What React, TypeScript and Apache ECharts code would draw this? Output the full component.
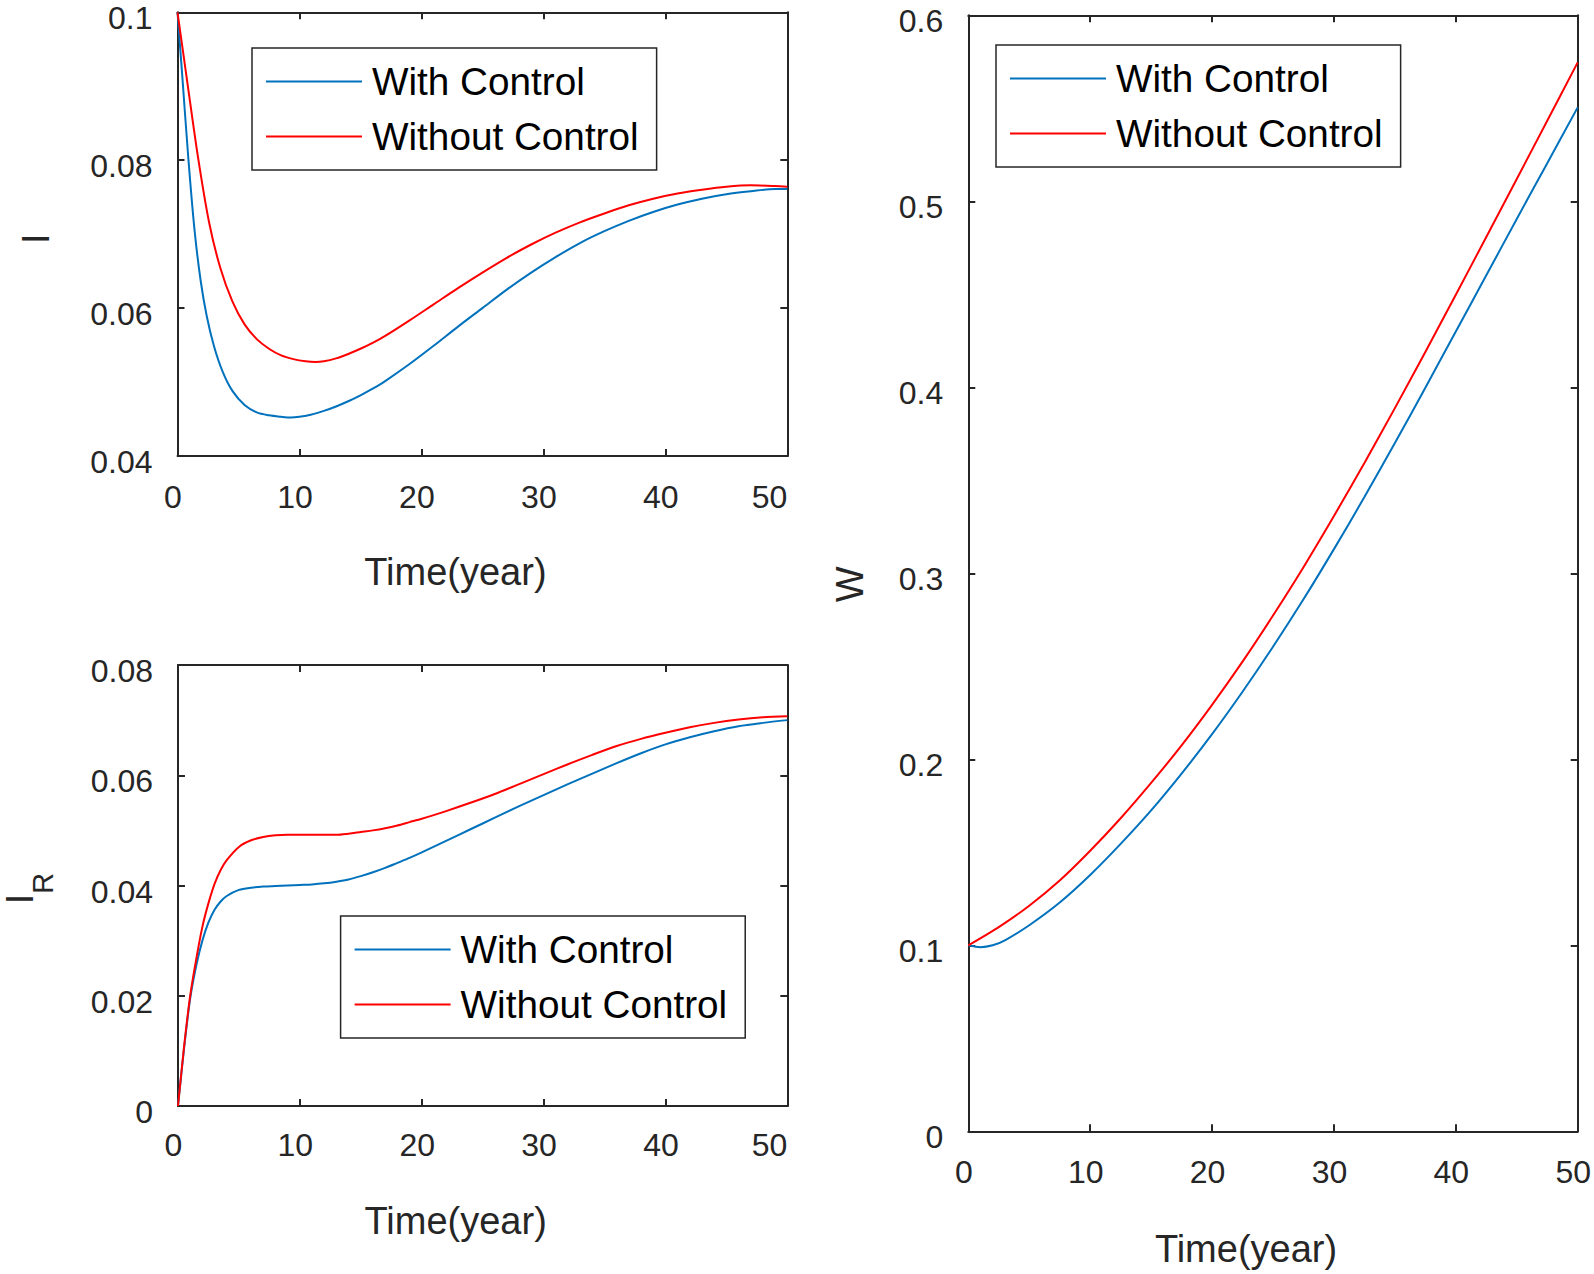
import React, { useEffect, useRef } from 'react';
import * as echarts from 'echarts';

// ---------- data ----------
const SERIES_NAMES = ['With Control', 'Without Control'];
const X_TICK_MIN = 0;
const X_TICK_MAX = 50;
const X_TICK_STEP = 10;

// Panel I (top-left)
const I_T_WITH = [0, 0.4, 0.9, 1.4, 1.9, 2.4, 3, 3.7, 4.5, 5.5, 6.5, 7.5, 8.5, 9.3, 10, 11, 12, 13, 14, 15, 16, 17, 19, 21, 23, 25, 27, 29, 31, 33, 35, 37, 39, 41, 43, 45, 47, 49, 50];
const I_WITH = [0.1, 0.0912, 0.08, 0.0705, 0.0637, 0.0589, 0.0548, 0.0514, 0.0488, 0.0469, 0.0459, 0.0455, 0.0453, 0.0452, 0.0453, 0.0456, 0.0461, 0.0467, 0.0474, 0.0482, 0.0491, 0.0501, 0.0524, 0.0549, 0.0575, 0.06, 0.0625, 0.0648, 0.0669, 0.0688, 0.0704, 0.0718, 0.073, 0.074, 0.0748, 0.0754, 0.0758, 0.0761, 0.0761];
const I_T_WITHOUT = [0, 0.8, 1.7, 2.6, 3.5, 4.5, 5.5, 6.5, 7.5, 8.5, 9.5, 10.5, 11.3, 12, 13, 14, 15, 16, 17, 19, 21, 23, 25, 27, 29, 31, 33, 35, 37, 39, 41, 43, 45, 47, 49, 50];
const I_WITHOUT = [0.1, 0.0906, 0.0802, 0.0715, 0.0655, 0.0609, 0.0578, 0.0558, 0.0545, 0.0536, 0.0531, 0.0528, 0.0527, 0.0528, 0.0532, 0.0538, 0.0545, 0.0553, 0.0562, 0.0583, 0.0605, 0.0627, 0.0648, 0.0668, 0.0686, 0.0702, 0.0716, 0.0728, 0.0739, 0.0748, 0.0755, 0.076, 0.0764, 0.0766, 0.0765, 0.0764];
const I_Y_MIN = 0.04;
const I_Y_MAX = 0.1;
const I_Y_STEP = 0.02;

// Panel I_R (bottom-left)
const IR_T = [0, 0.5, 1, 1.5, 2, 2.5, 3, 3.5, 4, 5, 6, 7, 8, 9, 10, 11, 12, 13, 14, 15, 16, 17, 18, 19, 20, 22, 24, 26, 28, 30, 32, 34, 36, 38, 40, 42, 44, 46, 48, 50];
const IR_WITH = [0, 0.0105, 0.0195, 0.0255, 0.03, 0.0333, 0.0356, 0.0371, 0.0381, 0.0392, 0.0396, 0.0398, 0.0399, 0.04, 0.0401, 0.0402, 0.0404, 0.0407, 0.0411, 0.0417, 0.0424, 0.0432, 0.0441, 0.045, 0.046, 0.0481, 0.0502, 0.0523, 0.0544, 0.0564, 0.0584, 0.0603, 0.0622, 0.064, 0.0656, 0.0669, 0.068, 0.0689, 0.0695, 0.07];
const IR_WITHOUT = [0, 0.0108, 0.02, 0.0267, 0.0325, 0.0368, 0.0403, 0.0428, 0.0446, 0.047, 0.0482, 0.0488, 0.0491, 0.0492, 0.0492, 0.0492, 0.0492, 0.0492, 0.0494, 0.0497, 0.05, 0.0504, 0.0509, 0.0515, 0.0521, 0.0535, 0.055, 0.0566, 0.0584, 0.0602, 0.062, 0.0637, 0.0653, 0.0666, 0.0677, 0.0687, 0.0695, 0.0701, 0.0705, 0.0707];
const IR_Y_MIN = 0;
const IR_Y_MAX = 0.08;
const IR_Y_STEP = 0.02;

// Panel W (right)
const W_T_WITH = [0, 1, 2, 3, 5, 7.5, 10, 12.5, 15, 17.5, 20, 22.5, 25, 27.5, 30, 32.5, 35, 37.5, 40, 42.5, 45, 47.5, 50];
const W_WITH = [0.1, 0.099, 0.1, 0.1027, 0.1108, 0.123, 0.1378, 0.1545, 0.1725, 0.1923, 0.2135, 0.2363, 0.2605, 0.286, 0.313, 0.341, 0.37, 0.3998, 0.43, 0.4602, 0.4905, 0.5205, 0.5505];
const W_T_WITHOUT = [0, 2.5, 5, 7.5, 10, 12.5, 15, 17.5, 20, 22.5, 25, 27.5, 30, 32.5, 35, 37.5, 40, 42.5, 45, 47.5, 50];
const W_WITHOUT = [0.1, 0.1098, 0.1213, 0.1348, 0.1508, 0.1683, 0.1873, 0.2075, 0.2293, 0.2525, 0.2773, 0.3033, 0.3308, 0.3593, 0.3888, 0.419, 0.4498, 0.4808, 0.512, 0.5433, 0.5747];
const W_Y_MIN = 0;
const W_Y_MAX = 0.6;
const W_Y_STEP = 0.1;

// ---------- style ----------
const BLUE = '#0072BD';
const RED = '#FF0000';
const AX = '#262626';
const FONT = "'Liberation Sans', Arial, Helvetica, sans-serif";

const zip = (xs: number[], ys: number[]) => xs.map((x, i) => [x, ys[i]]);
const fmtY = (v: number) => String(parseFloat(v.toFixed(3)));

const axisLine = { show: true, onZero: false, lineStyle: { color: AX, width: 2 } };
const axisTick = { show: true, inside: true, length: 7, lineStyle: { color: AX, width: 2 } };

function bottomX(gridIndex: number, alignRight: boolean, margin: number, nameGap: number) {
  return {
    type: 'value',
    gridIndex,
    position: 'bottom',
    min: X_TICK_MIN,
    max: X_TICK_MAX,
    interval: X_TICK_STEP,
    axisLine,
    axisTick,
    splitLine: { show: false },
    axisLabel: {
      margin,
      fontSize: 32,
      fontFamily: FONT,
      color: AX,
      alignMaxLabel: alignRight ? 'right' : undefined,
      formatter: (v: number) => (alignRight && v === X_TICK_MAX ? `{e|${v}}` : `{n|${v}}`),
      rich: {
        n: { fontSize: 32, fontFamily: FONT, color: AX, padding: [0, 9, 0, 0] },
        e: { fontSize: 32, fontFamily: FONT, color: AX },
      },
    },
    name: 'Time(year)',
    nameLocation: 'middle',
    nameGap,
    nameTextStyle: { fontSize: 38, fontFamily: FONT, color: AX, padding: [0, 54, 0, 0] },
  };
}

function topX(gridIndex: number) {
  return {
    type: 'value',
    gridIndex,
    position: 'top',
    min: X_TICK_MIN,
    max: X_TICK_MAX,
    interval: X_TICK_STEP,
    axisLine,
    axisTick,
    axisLabel: { show: false },
    splitLine: { show: false },
  };
}

function leftY(gridIndex: number, min: number, max: number, interval: number, name: string, nameGap: number, shift: number, rich?: any) {
  return {
    type: 'value',
    gridIndex,
    position: 'left',
    min,
    max,
    interval,
    axisLine,
    axisTick,
    splitLine: { show: false },
    axisLabel: {
      margin: 25,
      fontSize: 32,
      fontFamily: FONT,
      color: AX,
      verticalAlign: 'top',
      lineHeight: 12,
      formatter: fmtY,
    },
    name,
    nameLocation: 'middle',
    nameRotate: 90,
    nameGap,
    nameTextStyle: { fontSize: 38, fontFamily: FONT, color: AX, padding: [0, shift * 2, 0, 0], rich },
  };
}

function rightY(gridIndex: number, min: number, max: number, interval: number) {
  return {
    type: 'value',
    gridIndex,
    position: 'right',
    min,
    max,
    interval,
    axisLine,
    axisTick,
    axisLabel: { show: false },
    splitLine: { show: false },
  };
}

function legend(left: number, top: number) {
  return {
    left,
    top,
    orient: 'vertical',
    data: SERIES_NAMES,
    icon: 'rect',
    itemWidth: 96,
    itemHeight: 2,
    itemGap: 16,
    padding: [14, 18, 14, 14],
    borderColor: AX,
    borderWidth: 1.5,
    backgroundColor: '#ffffff',
    selectedMode: false,
    textStyle: { fontSize: 38.7, fontFamily: FONT, color: '#000', padding: [0, 0, 0, 5] },
  };
}

function line(name: string, color: string, axis: number, xs: number[], ys: number[]) {
  return {
    type: 'line',
    name,
    xAxisIndex: axis,
    yAxisIndex: axis,
    data: zip(xs, ys),
    symbol: 'none',
    showSymbol: false,
    smooth: 0.3,
    color,
    lineStyle: { width: 2, color },
    clip: true,
  };
}

const option: any = {
  animation: false,
  backgroundColor: '#ffffff',
  grid: [
    { left: 177.5, top: 12.3, width: 609.8, height: 443.7 },
    { left: 177.5, top: 665, width: 609.8, height: 441 },
    { left: 968.3, top: 15.3, width: 613.4, height: 1116 },
  ],
  xAxis: [
    bottomX(0, true, 25, 97),
    topX(0),
    bottomX(1, true, 23, 96),
    topX(1),
    bottomX(2, false, 25, 99),
    topX(2),
  ],
  yAxis: [
    leftY(0, I_Y_MIN, I_Y_MAX, I_Y_STEP, 'I', 123, 4.5),
    rightY(0, I_Y_MIN, I_Y_MAX, I_Y_STEP),
    leftY(1, IR_Y_MIN, IR_Y_MAX, IR_Y_STEP, '{i|I}{r|R}', 121, 3, {
      i: { fontSize: 38, fontFamily: FONT, color: AX, verticalAlign: 'top' },
      r: { fontSize: 29, fontFamily: FONT, color: AX, padding: [27, 0, 0, 0] },
    }),
    rightY(1, IR_Y_MIN, IR_Y_MAX, IR_Y_STEP),
    leftY(2, W_Y_MIN, W_Y_MAX, W_Y_STEP, 'W', 99, 11),
    rightY(2, W_Y_MIN, W_Y_MAX, W_Y_STEP),
  ],
  legend: [legend(252, 48), legend(340.6, 916), legend(996, 45)],
  series: [
    line(SERIES_NAMES[0], BLUE, 0, I_T_WITH, I_WITH),
    line(SERIES_NAMES[1], RED, 0, I_T_WITHOUT, I_WITHOUT),
    line(SERIES_NAMES[0], BLUE, 2, IR_T, IR_WITH),
    line(SERIES_NAMES[1], RED, 2, IR_T, IR_WITHOUT),
    line(SERIES_NAMES[0], BLUE, 4, W_T_WITH, W_WITH),
    line(SERIES_NAMES[1], RED, 4, W_T_WITHOUT, W_WITHOUT),
  ],
};

export default function App() {
  const ref = useRef<HTMLDivElement>(null);
  useEffect(() => {
    if (!ref.current) return;
    const chart = echarts.init(ref.current, undefined, { renderer: 'svg' });
    chart.setOption(option);
    return () => chart.dispose();
  }, []);
  return (
    <div
      ref={ref}
      style={{ position: 'fixed', left: 0, top: 0, width: 1594, height: 1274, background: '#ffffff' }}
    />
  );
}
